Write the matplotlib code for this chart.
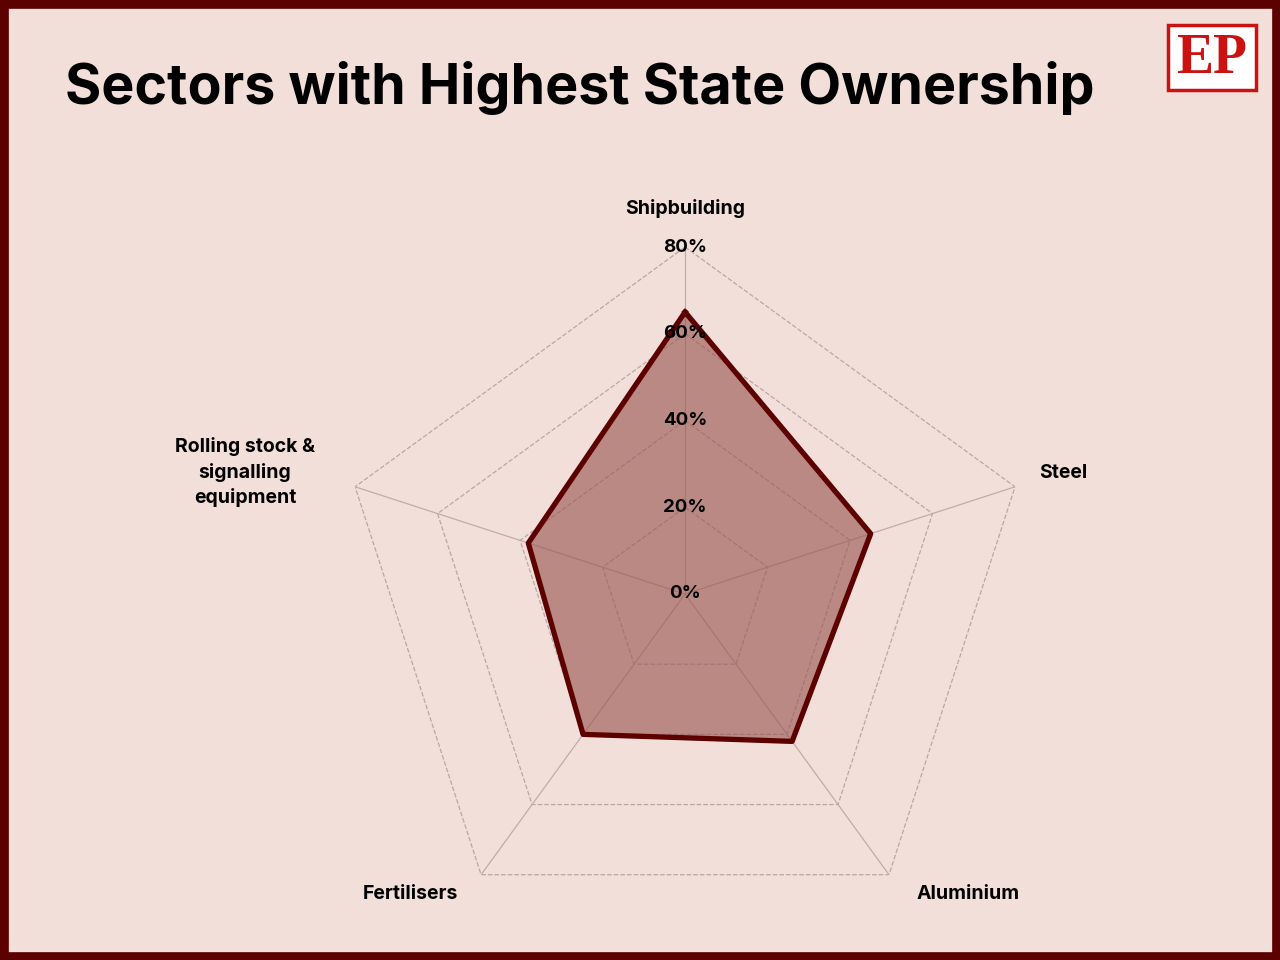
import numpy as np
import matplotlib.pyplot as plt
from matplotlib.patches import Rectangle

categories = ['Shipbuilding', 'Steel', 'Aluminium', 'Fertilisers', 'Rolling stock &\nsignalling\nequipment']
values = [65, 45, 42, 40, 38]
grid_levels = [20, 40, 60, 80]
tick_labels = ['0%', '20%', '40%', '60%', '80%']

bg = '#F2DFDA'
dark = '#5C0000'

fig = plt.figure(figsize=(12.8, 9.6), dpi=100, facecolor=bg)
fig.patches.append(Rectangle((0, 0), 1, 1, transform=fig.transFigure, fill=False,
                             edgecolor=dark, linewidth=12, zorder=10))

ax = fig.add_axes([0.2641, 0.0198, 0.5422, 0.7229], projection='polar')
ax.set_facecolor('none')
ax.set_theta_offset(np.pi / 2)
ax.set_theta_direction(-1)
ax.set_ylim(0, 80)
ax.grid(False)
ax.spines['polar'].set_visible(False)
ax.set_xticks([])
ax.set_yticks([])

n = len(categories)
angles = np.linspace(0, 2 * np.pi, n, endpoint=False)
closed = np.append(angles, angles[0])

for lev in grid_levels:
    ax.plot(closed, [lev] * (n + 1), color='#B8A8A5', linestyle='--', linewidth=0.9, zorder=1)
for a in angles:
    ax.plot([a, a], [0, 80], color='#C0ACA8', linewidth=0.9, zorder=1)

vals = values + [values[0]]
ax.fill(closed, vals, color='#9A5550', alpha=0.62, zorder=2)
ax.plot(closed, vals, color=dark, linewidth=3.8, zorder=3)

for i, lab in enumerate(tick_labels):
    ax.text(0, i * 20, lab, ha='center', va='center', fontsize=13.5, fontweight='bold',
            family='Inter', zorder=4)

# category label centres in pixels
label_px = [(685, 208), (1063, 473), (968, 894), (410, 894), (245, 472)]
for (px, py), cat in zip(label_px, categories):
    fig.text(px / 1280, 1 - py / 960, cat, ha='center', va='center', fontsize=14, fontweight='bold',
             family='Inter', linespacing=1.45)

fig.text(0.051, 0.908, 'Sectors with Highest State Ownership', fontsize=40, fontweight='bold',
         family='Inter', va='center', ha='left')

# logo
fig.patches.append(Rectangle((1168 / 1280, 1 - 90 / 960), 88 / 1280, 65 / 960,
                             transform=fig.transFigure, facecolor='white',
                             edgecolor='#CC1111', linewidth=2.5))
fig.text(1212 / 1280, 1 - 59 / 960, 'EP', fontsize=40, fontweight='bold', family='Liberation Serif',
         color='#CC1111', ha='center', va='center')

fig.savefig('out.png', dpi=100, facecolor=bg)
